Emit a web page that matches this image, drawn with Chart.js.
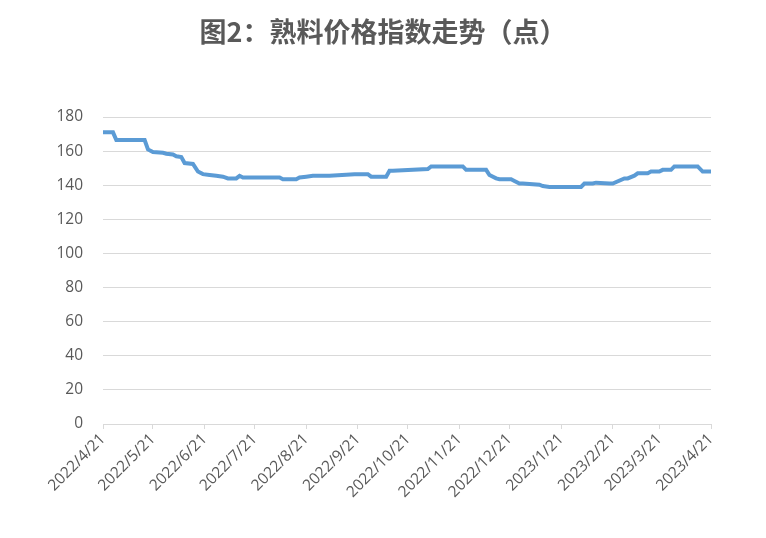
<!DOCTYPE html>
<html>
<head>
<meta charset="utf-8">
<script src="https://cdn.jsdelivr.net/npm/chart.js@4"></script>
<style>
  html, body { margin: 0; padding: 0; background: #fff; }
  #wrap { width: 766px; height: 538px; }
</style>
</head>
<body>
<div id="wrap"><canvas id="clinker"></canvas></div>
<script>
// index readings (date, points)
const pointDates = [
    '2022-04-21', '2022-04-27', '2022-04-29', '2022-05-16', '2022-05-18', '2022-05-21',
    '2022-05-27', '2022-05-29', '2022-06-02', '2022-06-04', '2022-06-07', '2022-06-09',
    '2022-06-14', '2022-06-17', '2022-06-20', '2022-06-24', '2022-06-28', '2022-07-02',
    '2022-07-05', '2022-07-10', '2022-07-12', '2022-07-14', '2022-08-05', '2022-08-07',
    '2022-08-15', '2022-08-17', '2022-08-21', '2022-08-25', '2022-09-04', '2022-09-19',
    '2022-09-21', '2022-09-27', '2022-09-29', '2022-10-08', '2022-10-10', '2022-10-12',
    '2022-11-02', '2022-11-04', '2022-11-23', '2022-11-25', '2022-12-07', '2022-12-09',
    '2022-12-13', '2022-12-15', '2022-12-22', '2022-12-24', '2022-12-27', '2022-12-29',
    '2023-01-08', '2023-01-10', '2023-01-14', '2023-01-16', '2023-02-02', '2023-02-04',
    '2023-02-09', '2023-02-11', '2023-02-19', '2023-02-21', '2023-02-28', '2023-03-02',
    '2023-03-06', '2023-03-08', '2023-03-14', '2023-03-16', '2023-03-21', '2023-03-23',
    '2023-03-28', '2023-03-30', '2023-04-13', '2023-04-16', '2023-04-21'
];
const indexValues = [
    171, 171, 166.5, 166.5, 161, 159.5,
    159, 158.5, 158, 157, 156.5, 153,
    152.5, 148, 146.5, 146, 145.5, 145,
    144, 144, 145.5, 144.5, 144.5, 143.5,
    143.5, 144.5, 145, 145.5, 145.5, 146.5,
    146.5, 146.5, 145, 145, 148.5, 148.5,
    149.5, 151, 151, 149, 149, 146,
    144, 143.5, 143.5, 142.5, 141, 141,
    140.3, 139.5, 139, 139, 139, 141,
    141, 141.5, 141, 141, 144, 144,
    145.6, 147, 147, 148, 148, 149,
    149, 151, 151, 148, 148
];
const tickDates = [
    '2022-04-21', '2022-05-21', '2022-06-21', '2022-07-21', '2022-08-21', '2022-09-21',
    '2022-10-21', '2022-11-21', '2022-12-21', '2023-01-21', '2023-02-21', '2023-03-21',
    '2023-04-21'
];
const tickLabels = [
    '2022/4/21', '2022/5/21', '2022/6/21', '2022/7/21', '2022/8/21', '2022/9/21',
    '2022/10/21', '2022/11/21', '2022/12/21', '2023/1/21', '2023/2/21', '2023/3/21',
    '2023/4/21'
];

const DAY = 86400000;
const start = Date.parse(pointDates[0]);
const dayOf = d => Math.round((Date.parse(d) - start) / DAY);
const tickDays = tickDates.map(dayOf);

const ctx = document.getElementById('clinker').getContext('2d');
new Chart(ctx, {
    type: 'line',
    data: {
        datasets: [{
            label: '熟料价格指数',
            data: pointDates.map((d, i) => ({ x: dayOf(d), y: indexValues[i] })),
            borderColor: '#5B9BD5',
            borderWidth: 4,
            pointRadius: 0,
            tension: 0,
            fill: false
        }]
    },
    options: {
        responsive: true,
        maintainAspectRatio: false,
        animation: false,
        layout: { padding: 0 },
        plugins: {
            legend: { display: false },
            tooltip: { enabled: false },
            title: {
                display: true,
                text: '图2：熟料价格指数走势（点）',
                color: '#595959',
                font: { family: '"Noto Sans CJK SC", sans-serif', size: 27, weight: 'bold', lineHeight: 1.2 },
                padding: { top: 16, bottom: 68.6 }
            }
        },
        scales: {
            x: {
                type: 'linear',
                min: 0,
                max: tickDays[tickDays.length - 1],
                afterBuildTicks: scale => {
                    scale.ticks = tickDays.map(v => ({ value: v }));
                },
                afterFit: scale => { scale.height = 114; },
                grid: { drawOnChartArea: false, drawTicks: true, tickLength: 5, color: '#d9d9d9' },
                border: { display: true, color: '#d9d9d9', width: 1 },
                ticks: {
                    autoSkip: false,
                    maxRotation: 45,
                    minRotation: 45,
                    padding: 1,
                    color: '#595959',
                    font: { family: '"Open Sans", sans-serif', size: 15.5 },
                    callback: value => {
                        const i = tickDays.indexOf(value);
                        return i >= 0 ? tickLabels[i] : '';
                    }
                }
            },
            y: {
                min: 0,
                max: 180,
                afterFit: scale => { scale.width = 103; },
                grid: { color: '#d9d9d9', drawTicks: false, lineWidth: 1 },
                border: { display: false },
                ticks: {
                    stepSize: 20,
                    padding: 20,
                    color: '#595959',
                    font: { family: '"Open Sans", sans-serif', size: 15.5 }
                }
            },
            // empty right-hand margin so the title centres on the whole page
            spacer: {
                position: 'right',
                min: 0,
                max: 180,
                afterFit: scale => { scale.width = 55; },
                grid: { display: false },
                border: { display: false },
                ticks: { display: false }
            }
        }
    }
});
</script>
</body>
</html>
